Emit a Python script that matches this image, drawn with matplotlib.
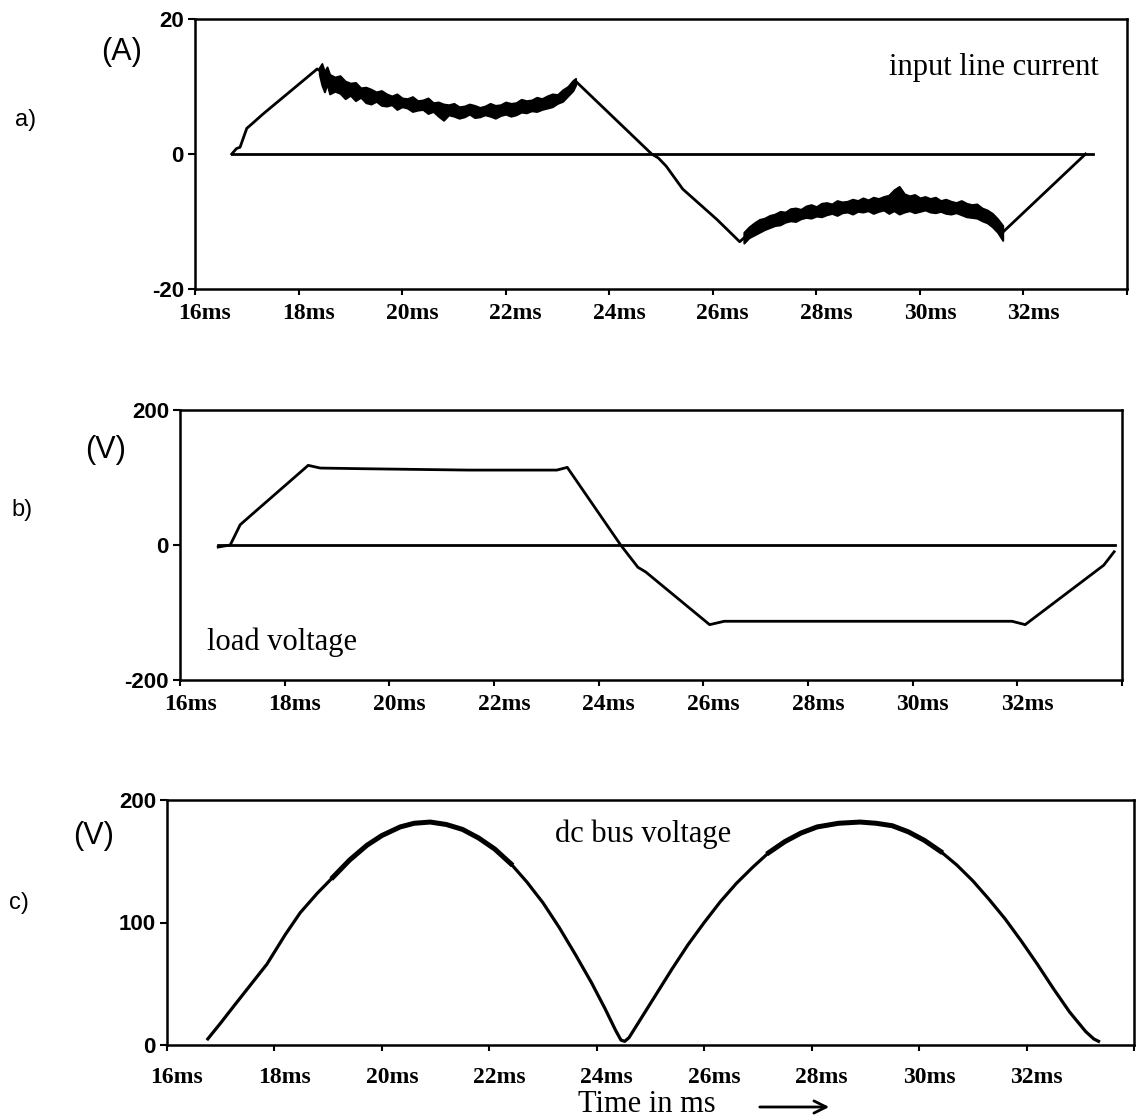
"""
Inverter waveforms: input line current, load voltage, dc bus voltage
"""

import matplotlib
matplotlib.use('Agg')
import matplotlib.pyplot as plt
from matplotlib.transforms import ScaledTranslation
from matplotlib.patches import FancyArrowPatch

# ---- data (time in ms) ----
# a) input line current (A)
cur_rise_t = [16.71, 16.80, 16.87, 17.0, 17.12, 17.31, 18.36, 18.42]
cur_rise_i = [0.0, 0.8, 1.0, 3.8, 4.6, 5.9, 12.6, 12.3]
# noisy band, positive half: time, lower and upper envelope
band1_t = [18.40, 18.45, 18.50, 18.55, 18.60, 18.70, 18.80, 18.90, 19.00, 19.10, 19.20,
           19.30, 19.40, 19.50, 19.60, 19.70, 19.80, 19.90, 20.00, 20.10, 20.20, 20.30,
           20.40, 20.50, 20.60, 20.70, 20.80, 20.90, 21.00, 21.10, 21.20, 21.30, 21.40,
           21.50, 21.60, 21.70, 21.80, 21.90, 22.00, 22.10, 22.20, 22.30, 22.40, 22.50,
           22.60, 22.70, 22.80, 22.90, 23.00, 23.10, 23.20, 23.30, 23.35]
band1_lo = [11.8, 10.2, 9.2, 10.4, 8.9, 9.3, 9.0, 8.2, 8.7, 7.9, 8.4,
            7.6, 7.4, 7.8, 7.2, 7.1, 7.3, 6.6, 7.0, 6.8, 6.3, 6.5,
            6.6, 6.0, 6.3, 5.6, 5.0, 5.8, 5.6, 5.3, 5.5, 5.9, 5.4,
            5.5, 5.8, 5.6, 5.3, 5.7, 5.9, 5.6, 5.8, 6.2, 6.1, 6.4,
            6.3, 6.6, 6.8, 7.0, 7.5, 7.8, 8.6, 9.4, 10.2]
band1_hi = [12.8, 13.4, 12.2, 12.9, 11.8, 11.4, 11.6, 10.8, 10.5, 10.6, 9.8,
            9.9, 9.6, 9.2, 9.4, 8.9, 8.6, 8.9, 8.3, 8.2, 8.5, 7.9,
            8.0, 8.3, 7.6, 7.7, 7.4, 7.3, 7.5, 7.0, 7.1, 7.4, 7.2,
            6.9, 7.1, 7.5, 7.2, 7.3, 7.7, 7.5, 7.6, 8.1, 7.9, 8.0,
            8.4, 8.2, 8.6, 8.9, 8.8, 9.5, 10.0, 10.9, 11.2]
cur_fall_t = [23.35, 24.82, 24.95, 25.1, 25.42, 26.08, 26.52, 26.62]
cur_fall_i = [10.8, 0.0, -0.6, -1.8, -5.2, -9.7, -13.0, -12.3]
# noisy band, negative half
band2_t = [26.6, 26.7, 26.8, 26.9, 27.0, 27.1, 27.2, 27.3, 27.4, 27.5, 27.6, 27.7, 27.8,
           27.9, 28.0, 28.1, 28.2, 28.3, 28.4, 28.5, 28.6, 28.7, 28.8, 28.9, 29.0, 29.1,
           29.2, 29.3, 29.4, 29.5, 29.6, 29.7, 29.8, 29.9, 30.0, 30.1, 30.2, 30.3, 30.4,
           30.5, 30.6, 30.7, 30.8, 30.9, 31.0, 31.1, 31.2, 31.3, 31.4, 31.5, 31.6]
band2_lo = [-13.2, -12.4, -12.0, -11.6, -11.2, -10.9, -10.6, -10.5, -10.1, -9.9, -10.0, -9.6, -9.4,
            -9.5, -9.2, -9.3, -9.0, -8.8, -9.1, -8.7, -8.6, -8.9, -8.5, -8.6, -8.4, -8.8,
            -8.5, -8.3, -8.8, -8.4, -8.9, -8.6, -8.4, -8.7, -8.5, -8.3, -8.6, -8.7, -8.5,
            -8.8, -8.9, -8.7, -9.0, -9.3, -9.4, -9.5, -9.9, -10.2, -10.8, -11.6, -12.8]
band2_hi = [-11.6, -10.8, -10.2, -9.7, -9.5, -9.1, -8.9, -8.5, -8.6, -8.1, -8.0, -8.2, -7.7,
            -7.5, -7.8, -7.3, -7.2, -7.4, -6.9, -7.1, -7.0, -6.7, -6.9, -6.5, -6.8, -6.4,
            -6.6, -6.3, -6.1, -5.3, -4.8, -5.9, -6.2, -6.0, -6.5, -6.3, -6.6, -6.4, -6.9,
            -6.7, -7.0, -7.2, -6.9, -7.3, -7.5, -7.4, -8.0, -8.3, -8.8, -9.6, -10.6]
cur_end_t = [31.6, 33.2]
cur_end_i = [-11.6, 0.0]
cur_zero_t = [16.71, 33.35]

# b) load voltage (V)
load_t = [16.73, 16.96, 17.15, 17.4, 18.45, 18.68, 19.5, 20.5, 21.5, 22.5, 23.2, 23.4,
          24.42, 24.75, 24.9, 26.12, 26.4, 27.5, 28.5, 29.5, 30.5, 31.5, 31.9, 32.15,
          33.65, 33.85]
load_v = [-3, 0, 30, 47, 118, 114, 113, 112, 111, 111, 111, 115,
          0, -33, -40, -118, -113, -113, -113, -113, -113, -113, -113, -118,
          -30, -10]
load_zero_t = [16.73, 33.87]

# c) dc bus voltage (V)
bus_t = [16.76, 17.0, 17.23, 17.5, 17.86, 18.2, 18.48, 18.8, 19.09, 19.4, 19.72, 20.0,
         20.34, 20.6, 20.9, 21.2, 21.5, 21.8, 22.1, 22.4, 22.7, 23.0, 23.3, 23.6, 23.9,
         24.15, 24.35, 24.45, 24.52, 24.6, 24.8, 25.1, 25.4, 25.7, 26.0, 26.3, 26.6, 26.9,
         27.2, 27.5, 27.8, 28.1, 28.5, 28.9, 29.2, 29.5, 29.8, 30.1, 30.4, 30.7, 31.0,
         31.3, 31.6, 31.9, 32.2, 32.5, 32.8, 33.1, 33.25, 33.34]
bus_v = [5, 18, 31, 46, 66, 90, 108, 124, 137, 151, 163, 171,
         178, 181, 182, 180, 176, 169, 160, 148, 133, 116, 96, 74, 51,
         30, 12, 4, 3, 6, 20, 41, 62, 82, 100, 117, 132, 145,
         157, 166, 173, 178, 181, 182, 181, 179, 174, 167, 158, 147, 134,
         119, 103, 85, 66, 46, 27, 11, 5, 3]

x_ticks = [16, 18, 20, 22, 24, 26, 28, 30, 32, 34]
x_labels = ['16ms', '18ms', '20ms', '22ms', '24ms', '26ms', '28ms', '30ms', '32ms', '']

W, H = 1142, 1119
fig = plt.figure(figsize=(W / 100, H / 100), dpi=100)


def px_axes(left, top, right, bottom):
    return fig.add_axes([left / W, 1 - bottom / H, (right - left) / W, (bottom - top) / H])


def style_axes(ax, yticks, ylabels, xpad):
    ax.set_xlim(16, 34)
    ax.set_xticks(x_ticks)
    ax.set_xticklabels(x_labels, fontfamily='Liberation Serif', fontweight='bold', fontsize=17)
    ax.set_yticks(yticks)
    ax.set_yticklabels(ylabels, fontfamily='Liberation Sans', fontweight='bold', fontsize=16)
    ax.tick_params(axis='x', direction='out', length=4, width=1.5, pad=xpad)
    ax.tick_params(axis='y', direction='out', length=5, width=1.5, pad=3)
    for s in ax.spines.values():
        s.set_linewidth(1.8)
    # labels sit a little right of their ticks in the original
    off = ScaledTranslation(10 / 100, 0, fig.dpi_scale_trans)
    for lab in ax.get_xticklabels():
        lab.set_transform(lab.get_transform() + off)


LW = 2.0

# ---- a) ----
ax1 = px_axes(195, 19, 1127, 289)
ax1.set_ylim(-20, 20)
ax1.plot(cur_zero_t, [0, 0], color='black', lw=LW)
ax1.plot(cur_rise_t, cur_rise_i, color='black', lw=LW)
ax1.fill_between(band1_t, band1_lo, band1_hi, color='black', lw=1.4)
ax1.plot(cur_fall_t, cur_fall_i, color='black', lw=LW)
ax1.fill_between(band2_t, band2_lo, band2_hi, color='black', lw=1.4)
ax1.plot(cur_end_t, cur_end_i, color='black', lw=LW)
style_axes(ax1, [-20, 0, 20], ['-20', '0', '20'], 6)
ax1.text(0.97, 0.82, 'input line current', transform=ax1.transAxes, ha='right', va='center',
         fontfamily='Liberation Serif', fontsize=22)

# ---- b) ----
ax2 = px_axes(180, 410, 1122, 680)
ax2.set_ylim(-200, 200)
ax2.plot(load_zero_t, [0, 0], color='black', lw=LW)
ax2.plot(load_t, load_v, color='black', lw=LW)
style_axes(ax2, [-200, 0, 200], ['-200', '0', '200'], 6)
ax2.text(27 / 942, 0.14, 'load voltage', transform=ax2.transAxes, ha='left', va='center',
         fontfamily='Liberation Serif', fontsize=22)

# ---- c) ----
ax3 = px_axes(167, 800, 1134, 1045)
ax3.set_ylim(0, 200)
ax3.plot(bus_t, bus_v, color='black', lw=2.3)
# the trace gets thicker (ripple) around the peaks
ax3.plot(bus_t[8:20], bus_v[8:20], color='black', lw=3.6)
ax3.plot(bus_t[38:49], bus_v[38:49], color='black', lw=3.6)
style_axes(ax3, [0, 100, 200], ['0', '100', '200'], 12)
ax3.text(388 / 967, 0.86, 'dc bus voltage', transform=ax3.transAxes, ha='left', va='center',
         fontfamily='Liberation Serif', fontsize=22)

# ---- panel letters and units ----
sans = dict(fontfamily='Liberation Sans', fontsize=22, ha='center', va='center')
fig.text(122 / W, 1 - 52 / H, '(A)', **sans)
fig.text(106 / W, 1 - 450 / H, '(V)', **sans)
fig.text(94 / W, 1 - 836 / H, '(V)', **sans)
fig.text(26 / W, 1 - 120 / H, 'a)', fontfamily='Liberation Sans', fontsize=17, ha='center', va='center')
fig.text(22 / W, 1 - 510 / H, 'b)', fontfamily='Liberation Sans', fontsize=17, ha='center', va='center')
fig.text(19 / W, 1 - 903 / H, 'c)', fontfamily='Liberation Sans', fontsize=17, ha='center', va='center')

# ---- x axis title with arrow ----
fig.text(578 / W, 1 - 1104 / H, 'Time in ms', fontfamily='Liberation Serif', fontsize=22,
         ha='left', va='center')
arrow = FancyArrowPatch((757 / W, 1 - 1107 / H), (832 / W, 1 - 1107 / H),
                        transform=fig.transFigure, arrowstyle='->', mutation_scale=22,
                        lw=2.0, color='black')
fig.add_artist(arrow)

plt.savefig('out.png', dpi=100)
plt.close()
